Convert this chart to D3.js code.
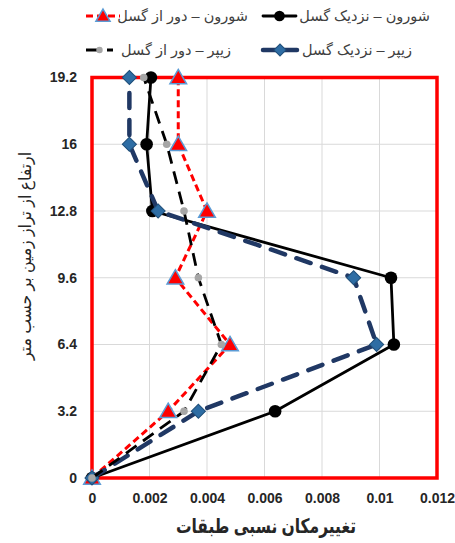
<!DOCTYPE html>
<html>
<head>
<meta charset="utf-8">
<script src="https://cdn.jsdelivr.net/npm/d3@7"></script>
<style>
  html, body { margin: 0; padding: 0; background: #fff; }
  svg { display: block; font-family: "Liberation Sans", "DejaVu Sans", sans-serif; }
</style>
</head>
<body>
<svg id="chart" width="455" height="543"></svg>
<script>
// Storey heights (m) and inter-storey drift values for each record
const heights = [0, 3.2, 6.4, 9.6, 12.8, 16, 19.2];
const shoroonNear = [0, 0.00637, 0.0105, 0.0104, 0.0021, 0.0019, 0.00205];
const shoroonFar  = [0, 0.00265, 0.0048, 0.0029, 0.0040, 0.0030, 0.0030];
const zipperNear  = [0, 0.0037, 0.0099, 0.0091, 0.0023, 0.0013, 0.0013];
const zipperFar   = [0, 0.0032, 0.0045, 0.0037, 0.0032, 0.0026, 0.0018];
const xTicks = [0, 0.002, 0.004, 0.006, 0.008, 0.01, 0.012];
const yTicks = [0, 3.2, 6.4, 9.6, 12.8, 16, 19.2];
const seriesNames = ["شورون – نزدیک گسل", "شورون – دور از گسل", "زیپر – نزدیک گسل", "زیپر – دور از گسل"];

const svg = d3.select("#chart");
const plotL = 92, plotR = 437, plotT = 77.5, plotB = 478;

const x = d3.scaleLinear().domain([0, 0.012]).range([plotL, plotR]);
const y = d3.scaleLinear().domain([0, 19.2]).range([plotB, plotT]);

// gridlines
const grid = svg.append("g");
grid.selectAll(".gx").data(xTicks).join("line")
  .attr("x1", d => x(d)).attr("x2", d => x(d))
  .attr("y1", plotT).attr("y2", plotB)
  .attr("stroke", "#d9d9d9").attr("stroke-width", 1);
grid.selectAll(".gy").data(yTicks).join("line")
  .attr("x1", plotL).attr("x2", plotR)
  .attr("y1", d => y(d)).attr("y2", d => y(d))
  .attr("stroke", "#d9d9d9").attr("stroke-width", 1);

// axes (labels only)
const xAxis = svg.append("g").attr("transform", `translate(0,${plotB})`)
  .call(d3.axisBottom(x).tickValues(xTicks).tickSize(0).tickPadding(15)
    .tickFormat(d => d === 0 ? "0" : String(+d.toFixed(3))));
const yAxis = svg.append("g").attr("transform", `translate(${plotL},0)`)
  .call(d3.axisLeft(y).tickValues(yTicks).tickSize(0).tickPadding(15)
    .tickFormat(d => String(d)));
[xAxis, yAxis].forEach(a => {
  a.select(".domain").remove();
  a.selectAll("text").attr("font-size", 14).attr("font-weight", "bold")
    .attr("fill", "#262626").attr("font-family", "Liberation Sans, sans-serif");
});

// plot area frame
svg.append("rect")
  .attr("x", plotL).attr("y", plotT)
  .attr("width", plotR - plotL).attr("height", plotB - plotT)
  .attr("fill", "none").attr("stroke", "#ff0000").attr("stroke-width", 3.5);

const line = d3.line().x(d => x(d[0])).y(d => y(d[1]));
const pts = vals => vals.map((v, i) => [v, heights[i]]);

const styles = [
  { vals: shoroonNear, stroke: "#000", width: 2.8, dash: null, cap: "round", marker: "circle" },
  { vals: shoroonFar, stroke: "#ff0000", width: 3, dash: "7,4", cap: "butt", marker: "triangle" },
  { vals: zipperNear, stroke: "#203864", width: 4.5, dash: "15,12", cap: "round", marker: "diamond" },
  { vals: zipperFar, stroke: "#000", width: 2.8, dash: "13,8", cap: "butt", marker: "dot" }
];

function drawMarker(g, kind, cx, cy, scale) {
  const s = scale || 1;
  if (kind === "circle") {
    g.append("circle").attr("cx", cx).attr("cy", cy).attr("r", 6.3 * s).attr("fill", "#000");
  } else if (kind === "triangle") {
    g.append("path")
      .attr("d", d3.symbol().type(d3.symbolTriangle).size(120 * s * s)())
      .attr("transform", `translate(${cx},${cy + 1.5 * s})`)
      .attr("fill", "#ff0000").attr("stroke", "#5b9bd5").attr("stroke-width", 1.5);
  } else if (kind === "diamond") {
    g.append("rect")
      .attr("x", -5 * s).attr("y", -5 * s).attr("width", 10 * s).attr("height", 10 * s)
      .attr("transform", `translate(${cx},${cy}) rotate(45)`)
      .attr("fill", "#2e6da4").attr("stroke", "#1f4e79").attr("stroke-width", 1);
  } else if (kind === "dot") {
    g.append("circle").attr("cx", cx).attr("cy", cy).attr("r", 3.8 * s).attr("fill", "#a6a6a6");
  }
}

styles.forEach(st => {
  const g = svg.append("g");
  g.append("path").datum(pts(st.vals)).attr("d", line)
    .attr("fill", "none").attr("stroke", st.stroke).attr("stroke-width", st.width)
    .attr("stroke-dasharray", st.dash).attr("stroke-linecap", st.cap)
    .attr("stroke-linejoin", "round");
  pts(st.vals).forEach(p => drawMarker(g, st.marker, x(p[0]), y(p[1])));
});

// legend
const legendPos = [
  { lx1: 263, lx2: 296, ly: 16, tx: 430 },
  { lx1: 86, lx2: 120, ly: 16, tx: 248 },
  { lx1: 263, lx2: 297, ly: 50, tx: 412 },
  { lx1: 86, lx2: 113, ly: 50, tx: 231 }
];
const legendDash = [null, "7,4", null, "13,8"];
styles.forEach((st, i) => {
  const p = legendPos[i];
  const g = svg.append("g");
  g.append("line").attr("x1", p.lx1).attr("x2", p.lx2).attr("y1", p.ly).attr("y2", p.ly)
    .attr("stroke", st.stroke).attr("stroke-width", st.width)
    .attr("stroke-dasharray", legendDash[i])
    .attr("stroke-linecap", st.cap);
  drawMarker(g, st.marker, (p.lx1 + p.lx2) / 2, p.ly, 0.85);
  g.append("text").attr("x", p.tx).attr("y", p.ly + 5)
    .attr("text-anchor", "end").attr("font-size", 14.5).attr("fill", "#404040")
    .text(seriesNames[i]);
});

// axis titles
svg.append("text").attr("x", 266).attr("y", 533)
  .attr("text-anchor", "middle").attr("font-size", 20).attr("font-weight", "bold")
  .attr("textLength", 180).attr("lengthAdjust", "spacingAndGlyphs")
  .attr("fill", "#262626").text("تغییرمکان نسبی طبقات");
svg.append("text").attr("transform", "translate(31,256) rotate(-90)")
  .attr("text-anchor", "middle").attr("font-size", 17)
  .attr("textLength", 208).attr("lengthAdjust", "spacingAndGlyphs")
  .attr("fill", "#262626").text("ارتفاع از تراز زمین بر حسب متر");
</script>
</body>
</html>
